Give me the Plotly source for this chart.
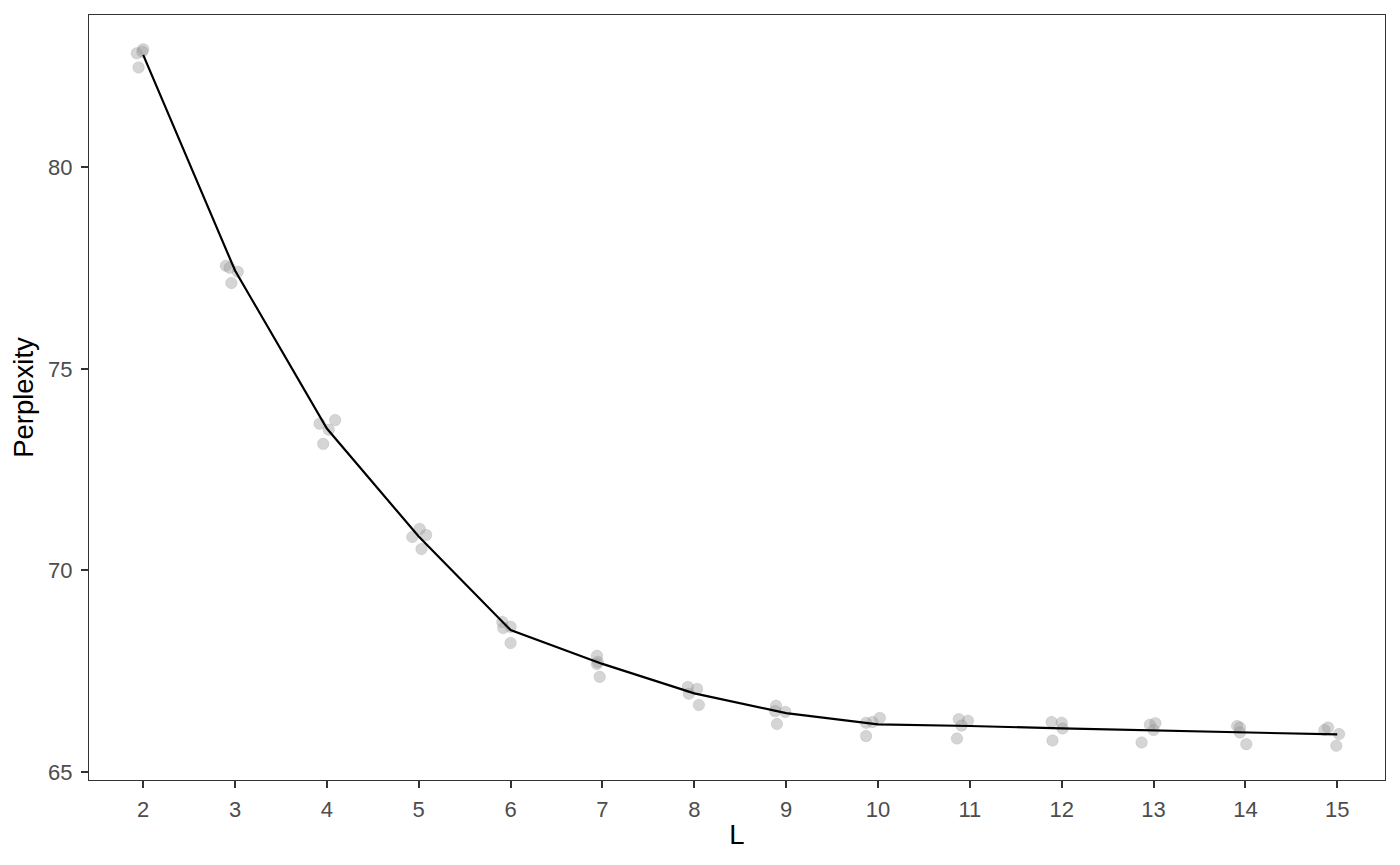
import plotly.graph_objects as go

# Mean perplexity by L (line)
L_vals = [2, 3, 4, 5, 6, 7, 8, 9, 10, 11, 12, 13, 14, 15]
mean_perp = [82.79, 77.44, 73.52, 70.84, 68.52, 67.68, 66.95, 66.46, 66.18, 66.14, 66.08, 66.03, 65.98, 65.93]

# Individual runs (jittered positions as drawn)
pt_x = [1.93, 2.00, 1.99, 1.95,
        2.90, 2.94, 3.03, 2.96,
        3.92, 4.09, 4.02, 3.96,
        4.93, 5.01, 5.08, 5.03,
        5.91, 5.92, 6.00, 6.00,
        6.94, 6.95, 6.94, 6.97,
        7.93, 8.03, 7.94, 8.05,
        8.89, 8.88, 8.99, 8.90,
        9.87, 9.94, 10.02, 9.87,
        10.88, 10.98, 10.91, 10.86,
        11.89, 12.00, 12.01, 11.90,
        12.96, 13.02, 13.00, 12.87,
        13.91, 13.94, 13.94, 14.01,
        14.86, 14.90, 15.02, 14.99]
pt_y = [82.83, 82.93, 82.87, 82.48,
        77.56, 77.51, 77.41, 77.13,
        73.64, 73.73, 73.49, 73.14,
        70.83, 71.03, 70.88, 70.53,
        68.72, 68.57, 68.60, 68.20,
        67.88, 67.73, 67.68, 67.36,
        67.11, 67.06, 66.94, 66.66,
        66.64, 66.51, 66.49, 66.19,
        66.22, 66.24, 66.34, 65.89,
        66.31, 66.27, 66.15, 65.83,
        66.24, 66.22, 66.08, 65.78,
        66.17, 66.21, 66.04, 65.73,
        66.14, 66.10, 65.98, 65.69,
        66.04, 66.10, 65.94, 65.65]

x_ticks = list(range(2, 16))
y_ticks = [65, 70, 75, 80]

FONT = "Liberation Sans, Arial, Helvetica, sans-serif"

fig = go.Figure()
fig.add_trace(go.Scatter(x=pt_x, y=pt_y, mode="markers",
                         marker=dict(size=11.5, color="rgba(150,150,150,0.4)",
                                     line=dict(width=0.6, color="rgba(140,140,140,0.35)")),
                         showlegend=False, hoverinfo="x+y"))
fig.add_trace(go.Scatter(x=L_vals, y=mean_perp, mode="lines",
                         line=dict(color="black", width=2.2), showlegend=False))

axis_common = dict(showgrid=False, zeroline=False, showline=True, mirror=True,
                   linecolor="#333333", linewidth=1.3, ticks="outside", ticklen=7,
                   tickwidth=2, tickcolor="#333333",
                   tickfont=dict(family=FONT, size=22, color="#4D4D4D"))

fig.update_layout(
    width=1400, height=865,
    margin=dict(l=81, r=23, t=7, b=93),
    paper_bgcolor="white", plot_bgcolor="white",
    font=dict(family=FONT),
    xaxis=dict(range=[1.41, 15.52], tickvals=x_ticks, ticklabelstandoff=2,
               title=dict(text="L", font=dict(size=27.5, color="black"), standoff=4),
               **axis_common),
    yaxis=dict(range=[64.8, 83.78], tickvals=y_ticks, ticklabelstandoff=4,
               title=dict(text="Perplexity", font=dict(size=27.5, color="black"), standoff=12),
               **axis_common),
)

fig.write_html("out.html")
